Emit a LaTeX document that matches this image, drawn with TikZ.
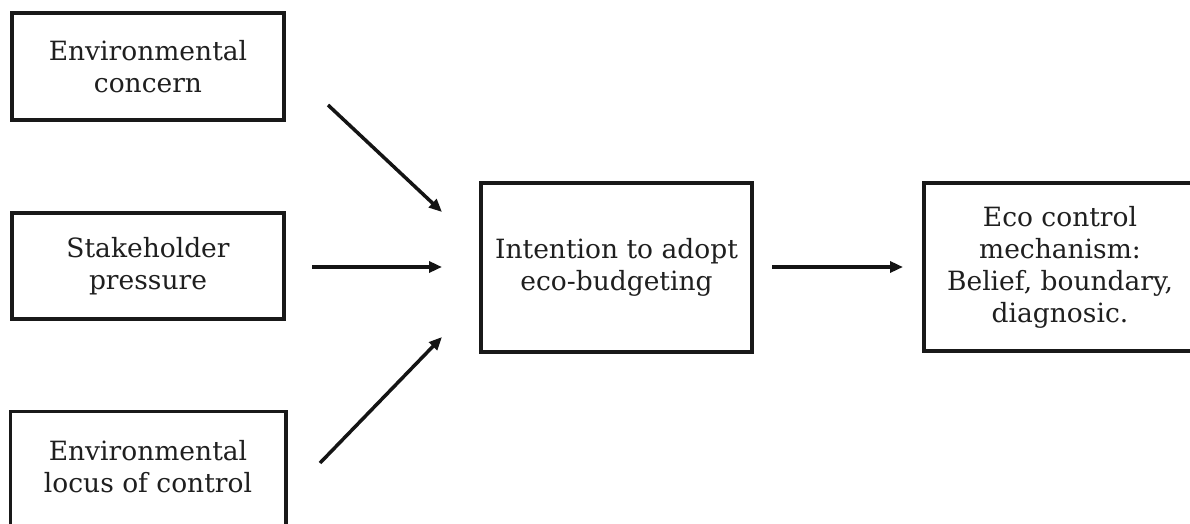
\documentclass[tikz,border=0pt]{standalone}
\usepackage{fontspec}
\setmainfont{DejaVu Serif}
\usetikzlibrary{arrows.meta,calc}
\begin{document}
\begin{tikzpicture}[x=1pt,y=-1pt,
  box/.style={draw=black!90,line width=3.5pt,minimum width=272pt,align=center,
    font=\fontsize{26.5}{32}\selectfont,text=black!88,inner sep=0pt},
  arr/.style={line width=3.5pt,draw=black!92,-{Triangle[length=13pt,width=11pt]}}]
\clip (0,0) rectangle (1190,524);
\fill[white] (0,0) rectangle (1190,524);
\node[box,minimum height=107pt] (b1) at (148,66.5) {Environmental\\concern};
\node[box,minimum height=106pt] (b2) at (148,266) {Stakeholder\\pressure};
\node[box,draw=none,minimum height=107pt] (b3) at (148,466.5) {Environmental\\locus of control};
\draw[black!90,line width=3.5pt] ($(b3.south west)+(0,30)$) -- (b3.north west) -- (b3.north east) -- ($(b3.south east)+(0,30)$);
\node[box,minimum width=271pt,minimum height=169pt] (c) at (616.5,267.5) {Intention to adopt\\eco-budgeting};
\node[box,minimum height=168pt] (r) at (1060,267) {Eco control\\mechanism:\\Belief, boundary,\\diagnosic.};
\coordinate (a1s) at (328,105);
\coordinate (a1e) at (442,212);
\coordinate (a2s) at (312,267);
\coordinate (a2e) at (442,267);
\coordinate (a3s) at (320,463);
\coordinate (a3e) at (442,337);
\coordinate (a4s) at (772,267);
\coordinate (a4e) at (903,267);
\draw[arr] (a1s) -- (a1e);
\draw[arr] (a2s) -- (a2e);
\draw[arr] (a3s) -- (a3e);
\draw[arr] (a4s) -- (a4e);
\end{tikzpicture}
\end{document}
